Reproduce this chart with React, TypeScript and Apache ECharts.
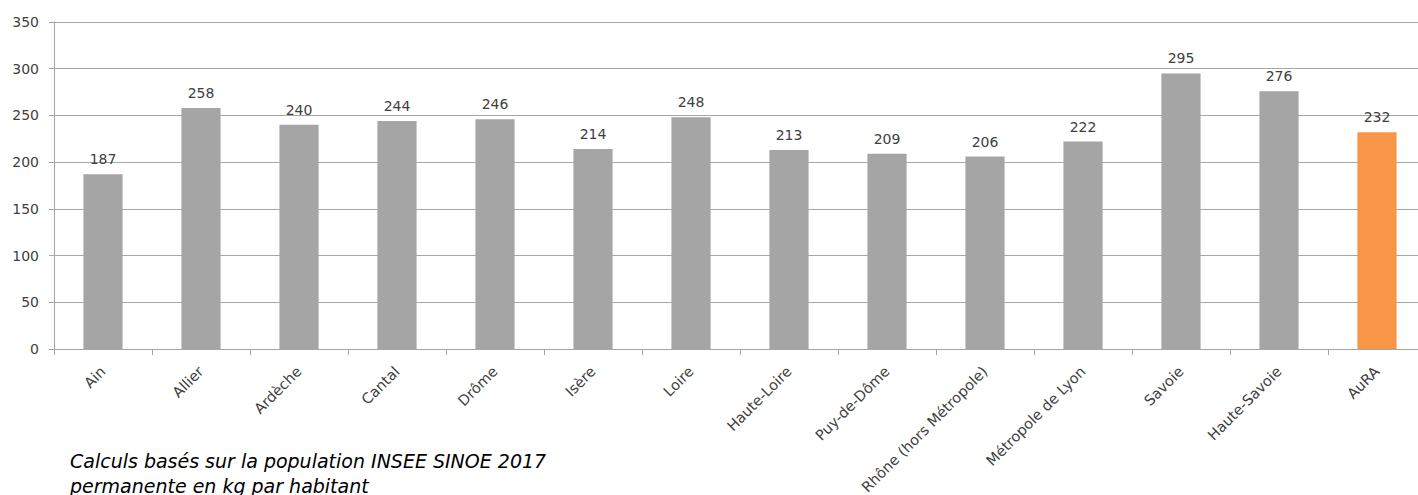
import React, { useEffect, useRef } from "react";
import * as echarts from "echarts";

const categories = [
  "Ain",
  "Allier",
  "Ardèche",
  "Cantal",
  "Drôme",
  "Isère",
  "Loire",
  "Haute-Loire",
  "Puy-de-Dôme",
  "Rhône (hors Métropole)",
  "Métropole de Lyon",
  "Savoie",
  "Haute-Savoie",
  "AuRA",
];
const values = [187, 258, 240, 244, 246, 214, 248, 213, 209, 206, 222, 295, 276, 232];
const highlighted = ["AuRA"];
const captionLines = [
  "Calculs basés sur la population INSEE SINOE 2017",
  "permanente en kg par habitant",
];

const FONT = "'DejaVu Sans', Verdana, sans-serif";

export default function App() {
  const ref = useRef<HTMLDivElement>(null);
  useEffect(() => {
    if (!ref.current) return;
    const chart = echarts.init(ref.current, undefined, { renderer: "svg" });
    chart.setOption({
      animation: false,
      backgroundColor: "#ffffff",
      grid: {
        left: 54,
        right: 0,
        top: 22,
        bottom: 146,
        containLabel: false,
        outerBoundsMode: "none",
      },
      xAxis: {
        type: "category",
        data: categories,
        boundaryGap: true,
        axisLine: { show: true, lineStyle: { color: "#a6a6a6", width: 1 } },
        axisTick: { show: true, length: 6, alignWithLabel: false, lineStyle: { color: "#a6a6a6" } },
        axisLabel: {
          interval: 0,
          rotate: 45,
          margin: 20,
          color: "#404040",
          fontFamily: FONT,
          fontSize: 14.5,
        },
        splitLine: { show: false },
      },
      yAxis: {
        type: "value",
        min: 0,
        max: 350,
        interval: 50,
        axisLine: { show: true, lineStyle: { color: "#a6a6a6", width: 1 } },
        axisTick: { show: true, length: 5, inside: false, lineStyle: { color: "#a6a6a6" } },
        axisLabel: {
          margin: 15,
          color: "#404040",
          fontFamily: FONT,
          fontSize: 14,
        },
        splitLine: { show: true, lineStyle: { color: "#a6a6a6", width: 1 } },
      },
      series: [
        {
          type: "bar",
          barWidth: "40%",
          data: values.map((v, i) => ({
            value: v,
            itemStyle: {
              color: highlighted.includes(categories[i]) ? "#f79646" : "#a5a5a5",
            },
          })),
          label: {
            show: true,
            position: "top",
            distance: 8,
            color: "#404040",
            fontFamily: FONT,
            fontSize: 14,
          },
        },
      ],
      graphic: captionLines.map((line, i) => ({
        type: "text",
        left: 70,
        top: 451 + i * 25,
        style: {
          text: line,
          fill: "#000000",
          font: `italic 19px ${FONT}`,
        },
      })),
    });
    return () => chart.dispose();
  }, []);
  return (
    <div
      style={{
        position: "fixed",
        left: 0,
        top: 0,
        width: 1418,
        height: 495,
        overflow: "hidden",
        background: "#fff",
      }}
    >
      <div ref={ref} style={{ width: 1426, height: 495 }} />
    </div>
  );
}
